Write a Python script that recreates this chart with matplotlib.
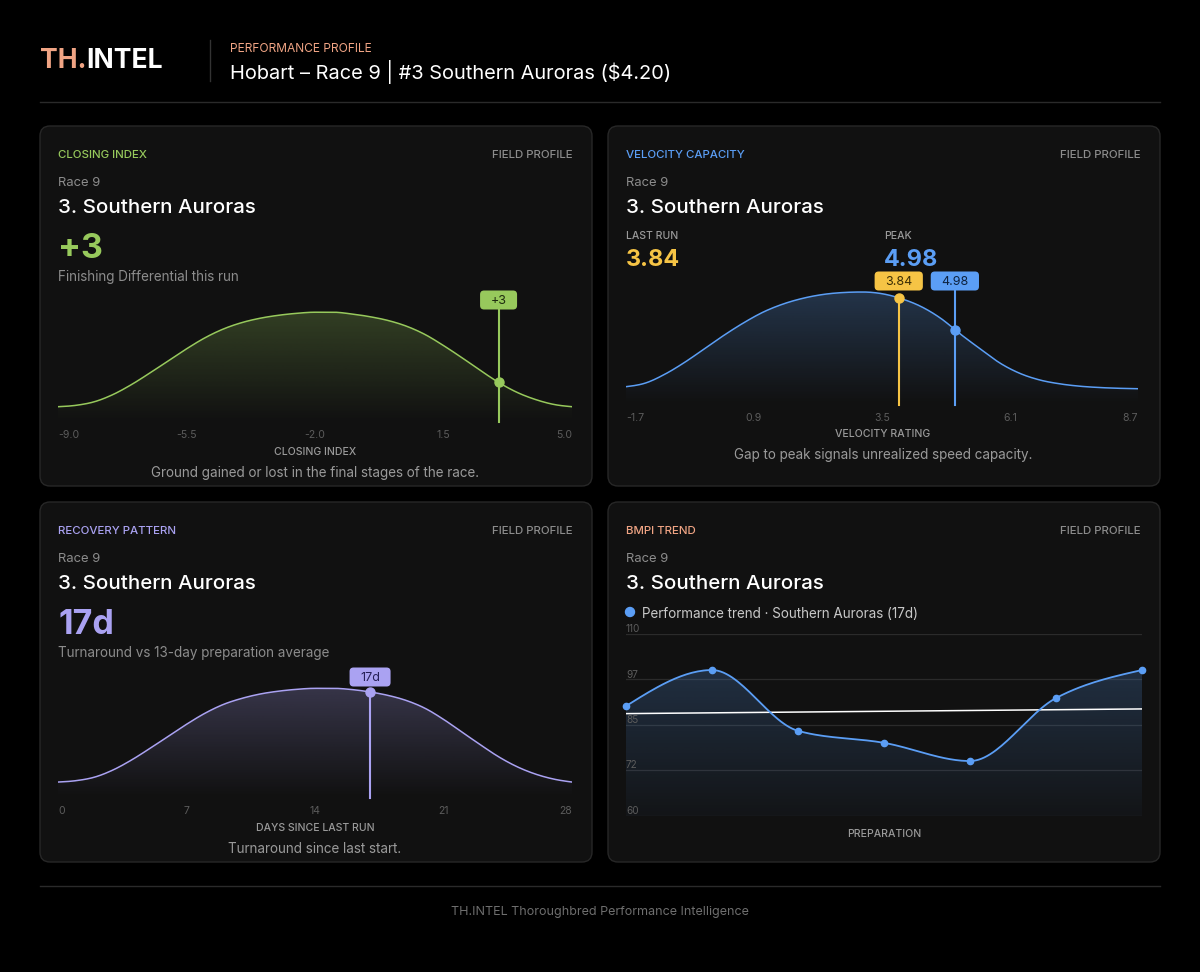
import numpy as np
import matplotlib
matplotlib.use("Agg")
import matplotlib.pyplot as plt
import matplotlib.colors as mcolors
from matplotlib.patches import FancyBboxPatch, Circle

plt.rcParams['font.family'] = ['Inter', 'DejaVu Sans']

# =====================================================================
# DATA
# =====================================================================
RACE = "Race 9"
RUNNER = "3. Southern Auroras"

# closing index distribution (field profile), step 0.5
closing_x = np.arange(-9.0, 5.01, 0.5)
closing_density = [0.139, 0.152, 0.185, 0.25, 0.34, 0.445, 0.555, 0.665, 0.765, 0.845,
                   0.903, 0.943, 0.97, 0.988, 0.998, 0.998, 0.982, 0.957, 0.922, 0.87,
                   0.795, 0.695, 0.585, 0.47, 0.36, 0.27, 0.205, 0.16, 0.139]
closing_ticks = [-9.0, -5.5, -2.0, 1.5, 5.0]
closing_value = 3

# velocity rating distribution, step 0.4
velocity_x = np.arange(-1.7, 8.71, 0.4)
velocity_density = [0.162, 0.195, 0.275, 0.38, 0.50, 0.62, 0.73, 0.825, 0.895, 0.945,
                    0.978, 0.995, 1.0, 0.985, 0.94, 0.87, 0.765, 0.625, 0.495, 0.37,
                    0.28, 0.222, 0.188, 0.167, 0.155, 0.148, 0.144]
velocity_ticks = [-1.7, 0.9, 3.5, 6.1, 8.7]
velocity_last = 3.84
velocity_peak = 4.98

# days since last run distribution, step 1 day
recovery_x = np.arange(0, 29)
recovery_density = [0.145, 0.158, 0.19, 0.255, 0.345, 0.45, 0.56, 0.67, 0.77, 0.85,
                    0.905, 0.945, 0.971, 0.988, 0.997, 0.997, 0.986, 0.964, 0.932, 0.885,
                    0.815, 0.715, 0.60, 0.485, 0.375, 0.285, 0.218, 0.172, 0.145]
recovery_ticks = [0, 7, 14, 21, 28]
recovery_value = 17

# BMPI trend across the preparation
bmpi_values = [90.2, 100.1, 83.4, 80.1, 75.1, 92.4, 100.1]
bmpi_yticks = [60, 72.5, 85, 97.5, 110]
bmpi_ylabels = ["60", "72", "85", "97", "110"]

# =====================================================================
# STYLE
# =====================================================================
W, H = 1200, 972
BG = "#000000"
CARD = "#111111"
EDGE = "#272727"
GREEN = "#97c95c"
BLUE = "#5b9ef5"
YELLOW = "#f6c445"
PURPLE = "#aaa2f2"
SALMON = "#f0a484"
MUTED = "#8c8c8c"
TICK = "#5c5c5c"


def px(size):
    """pixel font size -> points at dpi 100"""
    return size * 0.72


fig = plt.figure(figsize=(W / 100, H / 100), dpi=100)
fig.patch.set_facecolor(BG)
bg = fig.add_axes([0, 0, 1, 1])
bg.set_xlim(0, W)
bg.set_ylim(H, 0)
bg.axis("off")
renderer = fig.canvas.get_renderer()


def label(x, y, s, size, color, weight="normal", ha="left"):
    return bg.text(x, y + 1.5, s, fontsize=px(size), color=color, fontweight=weight,
                   ha=ha, va="center")


def card(x0, y0, x1, y1):
    bg.add_patch(FancyBboxPatch((x0, y0), x1 - x0, y1 - y0,
                                boxstyle="round,pad=0,rounding_size=10",
                                fc=CARD, ec=EDGE, lw=1))


def chart_axes(left, top, right, bottom):
    ax = fig.add_axes([left / W, 1 - bottom / H, (right - left) / W, (bottom - top) / H])
    ax.patch.set_alpha(0)
    for s in ax.spines.values():
        s.set_visible(False)
    return ax


def monotone_x(x, y, n=30):
    """d3-style monotone cubic through the points (drawing only)."""
    x = np.asarray(x, float)
    y = np.asarray(y, float)
    h = np.diff(x)
    s = np.diff(y) / h
    m = np.zeros(len(x))
    for i in range(1, len(x) - 1):
        p = (s[i - 1] * h[i] + s[i] * h[i - 1]) / (h[i - 1] + h[i])
        m[i] = (np.sign(s[i - 1]) + np.sign(s[i])) * min(abs(s[i - 1]), abs(s[i]), 0.5 * abs(p))
    m[0] = (3 * s[0] - m[1]) / 2
    m[-1] = (3 * s[-1] - m[-2]) / 2
    xs, ys = [], []
    for i in range(len(x) - 1):
        t = np.linspace(0, 1, n, endpoint=(i == len(x) - 2))
        h00 = 2 * t**3 - 3 * t**2 + 1
        h10 = t**3 - 2 * t**2 + t
        h01 = -2 * t**3 + 3 * t**2
        h11 = t**3 - t**2
        xs.append(x[i] + t * h[i])
        ys.append(h00 * y[i] + h10 * h[i] * m[i] + h01 * y[i + 1] + h11 * h[i] * m[i + 1])
    return np.concatenate(xs), np.concatenate(ys)


def gradient_fill(ax, x, y, color, y0, y1, a_top, a_bot):
    x = np.asarray(x, float)
    poly = ax.fill_between(x, y, y0, facecolor="none", edgecolor="none")
    grad = np.zeros((256, 1, 4))
    grad[:, 0, :3] = mcolors.to_rgb(color)
    grad[:, 0, 3] = np.linspace(a_top, a_bot, 256)
    im = ax.imshow(grad, extent=[x.min(), x.max(), y0, y1], aspect="auto",
                   origin="upper", zorder=1, interpolation="bilinear")
    im.set_clip_path(poly.get_paths()[0], transform=ax.transData)


def tag(ax, xval, y, s, fc, tc):
    xp = ax.transData.transform((xval, 0))[0]
    t = bg.text(xp, y + 0.5, s, fontsize=px(12.5), color=tc, ha="center", va="center", zorder=6)
    w = t.get_window_extent(renderer).width
    bg.add_patch(FancyBboxPatch((xp - w / 2 - 10.5, y - 9.5), w + 21, 19,
                                boxstyle="round,pad=0,rounding_size=4",
                                fc=fc, ec="none", zorder=5))


def density_chart(left, right, top, base, peak, xs, ys, color, ticks, fmt):
    ax = chart_axes(left, top, right, base)
    scale = base - peak
    sx, sy = monotone_x(xs, ys, 12)
    gradient_fill(ax, sx, sy, color, 0.0, 1.0, 0.25, 0.0)
    ax.plot(sx, sy, color=color, lw=1.1, zorder=3)
    ax.set_xlim(xs[0], xs[-1])
    ax.set_ylim(0, (base - top) / scale)
    ax.set_yticks([])
    ax.set_xticks(ticks)
    ax.set_xticklabels([fmt.format(t) for t in ticks])
    ax.tick_params(axis="x", length=0, pad=5.5, labelsize=px(10.5), labelcolor=TICK)
    lbls = ax.get_xticklabels()
    lbls[0].set_ha("left")
    lbls[-1].set_ha("right")
    return ax, scale


def card_head(x0, y0, title, color):
    label(x0 + 18, y0 + 27, title, 11.5, color, "medium")
    label(x0 + 533, y0 + 27, "FIELD PROFILE", 11.5, MUTED, "medium", ha="right")
    label(x0 + 18, y0 + 55, RACE, 13, MUTED)
    label(x0 + 18, y0 + 80, RUNNER, 20.5, "white", "medium")


# =====================================================================
# HEADER / FOOTER
# =====================================================================
t = label(40, 60, "TH.", 26.5, SALMON, "bold")
tw = t.get_window_extent(renderer).width
label(40 + tw, 60, "INTEL", 26.5, "white", "bold")
bg.plot([210, 210], [40, 81], color="#333333", lw=1)
label(230, 48, "PERFORMANCE PROFILE", 12, SALMON)
label(230, 71, "Hobart \u2013 Race 9 | #3 Southern Auroras ($4.20)", 20, "white")
bg.plot([40, 1160], [102, 102], color="#2a2a2a", lw=1)
bg.plot([40, 1160], [886, 886], color="#2a2a2a", lw=1)
label(600, 910, "TH.INTEL Thoroughbred Performance Intelligence", 12.5, "#6e6e6e", ha="center")

for (x0, y0) in [(40, 126), (608, 126), (40, 502), (608, 502)]:
    card(x0, y0, x0 + 552, y0 + 360)

# =====================================================================
# CARD 1: closing index
# =====================================================================
card_head(40, 126, "CLOSING INDEX", GREEN)
label(58, 247, "+{}".format(closing_value), 34, GREEN, "bold")
label(58, 275, "Finishing Differential this run", 13.5, MUTED)
ax1, sc1 = density_chart(58, 572, 290, 422, 312, closing_x, closing_density, GREEN,
                         closing_ticks, "{:.1f}")
v1 = np.interp(closing_value, closing_x, closing_density)
ax1.plot([closing_value] * 2, [0, (422 - 310) / sc1], color=GREEN, lw=1.5, zorder=4, clip_on=False)
ax1.plot(closing_value, v1, "o", ms=6.5, color=GREEN, zorder=5, clip_on=False)
tag(ax1, closing_value, 300, "+{}".format(closing_value), GREEN, "#1e2b10")
label(315, 450, "CLOSING INDEX", 10.5, "#9a9a9a", "medium", ha="center")
label(315, 471, "Ground gained or lost in the final stages of the race.", 13.5, "#9a9a9a", ha="center")

# =====================================================================
# CARD 2: velocity capacity
# =====================================================================
card_head(608, 126, "VELOCITY CAPACITY", BLUE)
label(626, 234, "LAST RUN", 10.5, "#9a9a9a", "medium")
label(626, 258, "{:.2f}".format(velocity_last), 23.5, YELLOW, "bold")
label(884, 234, "PEAK", 10.5, "#9a9a9a", "medium")
label(884, 258, "{:.2f}".format(velocity_peak), 23.5, BLUE, "bold")
ax2, sc2 = density_chart(626, 1138, 270, 405, 292, velocity_x, velocity_density, BLUE,
                         velocity_ticks, "{:.1f}")
vl = np.interp(velocity_last, velocity_x, velocity_density)
vp = np.interp(velocity_peak, velocity_x, velocity_density)
ax2.plot([velocity_last] * 2, [0, vl], color=YELLOW, lw=1.5, zorder=4, clip_on=False)
ax2.plot(velocity_last, vl, "o", ms=6.5, color=YELLOW, zorder=5, clip_on=False)
ax2.plot([velocity_peak] * 2, [0, (405 - 290) / sc2], color=BLUE, lw=1.5, zorder=4, clip_on=False)
ax2.plot(velocity_peak, vp, "o", ms=6.5, color=BLUE, zorder=5, clip_on=False)
tag(ax2, velocity_last, 281, "{:.2f}".format(velocity_last), YELLOW, "#3b2e05")
tag(ax2, velocity_peak, 281, "{:.2f}".format(velocity_peak), BLUE, "#0e2340")
label(883, 432, "VELOCITY RATING", 10.5, "#9a9a9a", "medium", ha="center")
label(883, 453, "Gap to peak signals unrealized speed capacity.", 13.5, "#9a9a9a", ha="center")

# =====================================================================
# CARD 3: recovery pattern
# =====================================================================
card_head(40, 502, "RECOVERY PATTERN", PURPLE)
label(58, 623, "{}d".format(recovery_value), 34, PURPLE, "bold")
label(58, 651, "Turnaround vs 13-day preparation average", 13.5, MUTED)
ax3, sc3 = density_chart(58, 572, 665, 798, 688, recovery_x, recovery_density, PURPLE,
                         recovery_ticks, "{}")
v3 = np.interp(recovery_value, recovery_x, recovery_density)
ax3.plot([recovery_value] * 2, [0, v3], color=PURPLE, lw=1.5, zorder=4, clip_on=False)
ax3.plot(recovery_value, v3, "o", ms=6.5, color=PURPLE, zorder=5, clip_on=False)
tag(ax3, recovery_value, 677, "{}d".format(recovery_value), PURPLE, "#262057")
label(315, 826, "DAYS SINCE LAST RUN", 10.5, "#9a9a9a", "medium", ha="center")
label(315, 847, "Turnaround since last start.", 13.5, "#9a9a9a", ha="center")

# =====================================================================
# CARD 4: BMPI trend
# =====================================================================
card_head(608, 502, "BMPI TREND", SALMON)
bg.add_patch(Circle((630, 612), 4.5, color=BLUE))
label(642, 612, "Performance trend \u00b7 Southern Auroras (17d)", 13.5, "#c8c8c8")

ax4 = chart_axes(626, 634, 1142, 816)
idx = np.arange(len(bmpi_values))
ax4.set_xlim(0, idx[-1])
ax4.set_ylim(bmpi_yticks[0], bmpi_yticks[-1])
for v, lab in zip(bmpi_yticks, bmpi_ylabels):
    ax4.axhline(v, color="#2b2b2b", lw=0.9, zorder=0)
    ax4.text(0, v, lab, transform=ax4.get_yaxis_transform(), ha="left", va="bottom",
             fontsize=px(10), color=TICK)
sx, sy = monotone_x(idx, bmpi_values)
gradient_fill(ax4, sx, sy, BLUE, bmpi_yticks[0], bmpi_yticks[-1], 0.26, 0.03)
coef = np.polyfit(idx, bmpi_values, 1)
ax4.plot(idx, np.polyval(coef, idx), color="white", lw=1.1, zorder=3)
ax4.plot(sx, sy, color=BLUE, lw=1.3, zorder=4)
ax4.plot(idx, bmpi_values, "o", ms=4.5, color=BLUE, zorder=5, clip_on=False)
ax4.set_xticks([])
ax4.set_yticks([])
label(884, 832, "PREPARATION", 10.5, "#9a9a9a", "medium", ha="center")

fig.savefig("out.png", dpi=100, facecolor=BG)
